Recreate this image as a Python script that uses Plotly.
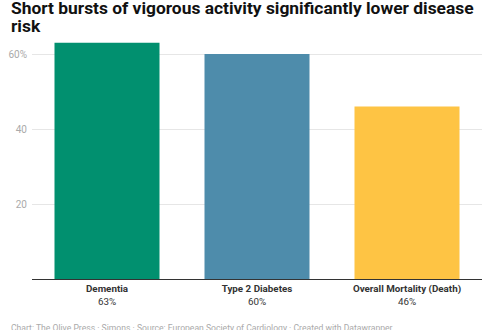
import plotly.graph_objects as go

categories = ["Dementia", "Type 2 Diabetes", "Overall Mortality (Death)"]
values = [63, 60, 46]
colors = ["#01906f", "#4e8cab", "#fec444"]
y_tick_vals = [20, 40, 60]
y_tick_text = ["20", "40", "60%"]
title_lines = ["Short bursts of vigorous activity significantly lower disease", "risk"]
footer = "Chart: The Olive Press · Simons · Source: European Society of Cardiology · Created with Datawrapper"

tick_text = [f"<b>{c}</b><br>{v}%" for c, v in zip(categories, values)]

fig = go.Figure(go.Bar(
    x=categories, y=values,
    marker=dict(color=colors, line=dict(width=0)),
    width=0.7, hoverinfo="skip",
))

W, H = 490, 330
L, R, T, B = 30, 8, 39, 51
pw, ph = W - L - R, H - T - B
base = H - B  # pixel y of plot bottom


def py(pix):
    return (base - pix) / ph


def px(pix):
    return (pix - L) / pw


fig.update_layout(
    width=W, height=H,
    margin=dict(l=L, r=R, t=T, b=B),
    paper_bgcolor="white", plot_bgcolor="white",
    font=dict(family="Roboto, Arial, sans-serif", color="#333333"),
    showlegend=False,
)
fig.update_xaxes(
    tickvals=categories, ticktext=tick_text,
    range=[-0.5, 2.5],
    showline=True, linecolor="#333333", linewidth=1,
    showgrid=False, ticks="",
    tickfont=dict(size=9.8, color="#333333"),
    fixedrange=True,
)
fig.update_yaxes(
    range=[0, 64],
    tickvals=y_tick_vals, ticktext=y_tick_text,
    showgrid=True, gridcolor="#e6e6e6", gridwidth=1,
    zeroline=False, showline=False, ticks="",
    tickfont=dict(size=10, color="#aaaaaa"),
    ticklabelstandoff=4,
    fixedrange=True,
)

for i, line in enumerate(title_lines):
    fig.add_annotation(
        text=f"<b>{line}</b>",
        xref="paper", yref="paper",
        x=px(7), y=py(-4 + i * 17.5),
        xanchor="left", yanchor="top", align="left", showarrow=False,
        font=dict(size=17.4, color="#111111", family="Roboto, Arial, sans-serif"),
    )
fig.add_annotation(
    text=footer,
    xref="paper", yref="paper",
    x=px(7), y=py(321),
    xanchor="left", yanchor="top", align="left", showarrow=False,
    font=dict(size=8.6, color="#aaaaaa"),
)

fig.write_html("out.html")
